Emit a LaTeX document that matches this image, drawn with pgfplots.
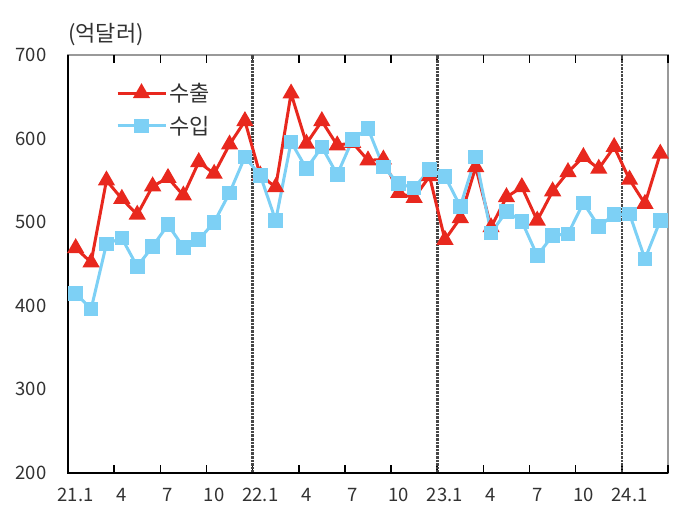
\documentclass[border=0pt]{standalone}
\usepackage{fontspec}
\setmainfont{Noto Sans CJK KR}
\usepackage{pgfplots}
\pgfplotsset{compat=1.18}
\definecolor{expred}{RGB}{232,40,30}
\definecolor{impblue}{RGB}{125,208,245}
\definecolor{txt}{RGB}{50,50,50}

\begin{document}
\begin{tikzpicture}
\useasboundingbox (0,0) rectangle (688pt,528pt);
\begin{axis}[
    at={(68pt,55pt)}, anchor=south west,
    scale only axis,
    width=600pt, height=418pt,
    xmin=-0.5, xmax=38.5,
    ymin=200, ymax=700,
    clip=false,
    axis line style={draw=gray!80, line width=1.6pt},
    ytick={200,300,...,700},
    xtick={0,3,...,36},
    xticklabels={21.1,4,7,10,22.1,4,7,10,23.1,4,7,10,24.1},
    major tick length=0pt,
    extra x ticks={-0.5,2.5,5.5,8.5,11.5,14.5,17.5,20.5,23.5,26.5,29.5,32.5,35.5,38.5},
    extra x tick labels={},
    extra x tick style={major tick length=8pt, tick style={black, line width=1.5pt}},
    /pgf/number format/assume math mode=true,
    tick label style={font=\fontsize{18.5}{20}\selectfont, text=txt},
    yticklabel style={xshift=-18pt},
    xticklabel style={yshift=-12pt},
    legend style={draw=none, fill=none, at={(0.078,0.94)}, anchor=north west,
        font=\fontsize{22}{26}\selectfont, text=txt, row sep=9pt, inner sep=1pt},
    legend cell align=left,
    legend image code/.code={\draw[mark repeat=2,mark phase=2,#1] plot coordinates {(0pt,0pt) (24pt,0pt) (48pt,0pt)};},
]
% year boundaries
\draw[gray!55!black, line width=2.6pt, densely dotted] (axis cs:11.5,200) -- (axis cs:11.5,700);
\draw[gray!55!black, line width=2.6pt, densely dotted] (axis cs:23.5,200) -- (axis cs:23.5,700);
\draw[gray!55!black, line width=2.6pt, densely dotted] (axis cs:35.5,200) -- (axis cs:35.5,700);
\draw[black, line width=2pt] (axis cs:-0.5,700) -- (axis cs:-0.5,200) -- (axis cs:38.5,200);

\addplot[expred, line width=3pt, mark=triangle*, mark size=7pt, mark options={solid}] coordinates {
(0,469) (1,452) (2,550) (3,528) (4,509) (5,543) (6,553) (7,532) (8,572) (9,558) (10,593) (11,621)
(12,556) (13,542) (14,654) (15,594) (16,621) (17,592) (18,595) (19,574) (20,575) (21,535) (22,529) (23,555)
(24,479) (25,505) (26,566) (27,494) (28,530) (29,542) (30,502) (31,537) (32,560) (33,578) (34,564) (35,590)
(36,551) (37,522) (38,582)
};
\addlegendentry{수출}

\addplot[impblue, line width=3pt, mark=square*, mark size=5.8pt, mark options={solid}] coordinates {
(0,415) (1,396) (2,474) (3,481) (4,447) (5,471) (6,497) (7,470) (8,479) (9,500) (10,535) (11,578)
(12,556) (13,502) (14,596) (15,564) (16,590) (17,557) (18,599) (19,612) (20,566) (21,546) (22,541) (23,563)
(24,555) (25,519) (26,578) (27,487) (28,513) (29,501) (30,460) (31,484) (32,486) (33,523) (34,495) (35,509)
(36,510) (37,456) (38,502)
};
\addlegendentry{수입}

\node[anchor=south west, inner sep=0pt, text=txt, font=\fontsize{22}{24}\selectfont] at ([yshift=9pt]rel axis cs:0,1) {(억달러)};
\end{axis}
\end{tikzpicture}
\end{document}
